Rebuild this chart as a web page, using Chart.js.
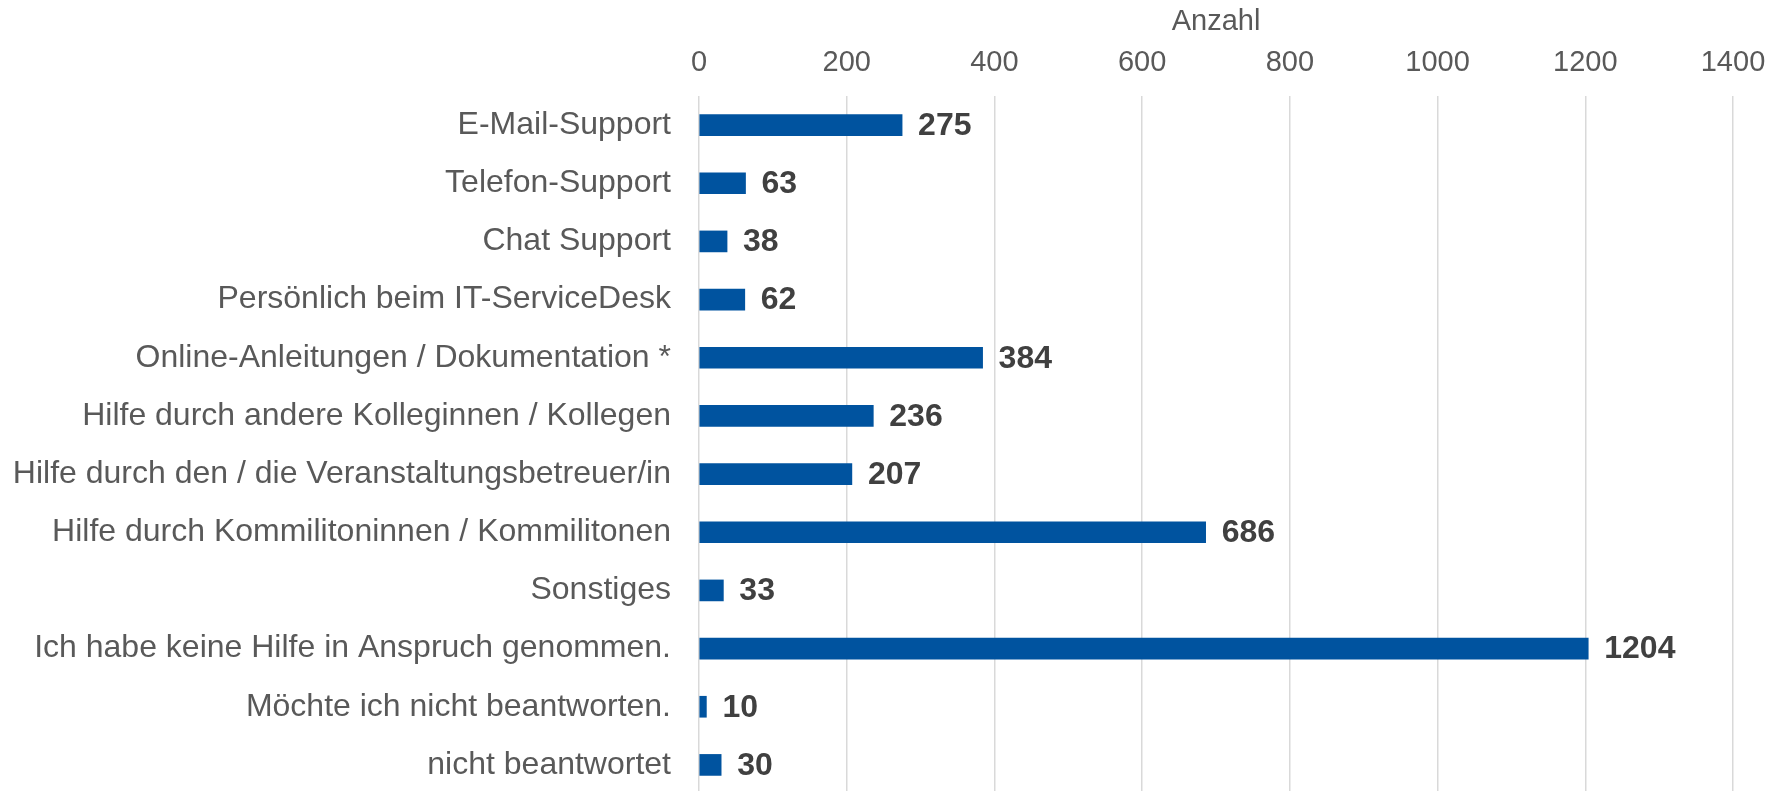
<!DOCTYPE html>
<html lang="de">
<head>
<meta charset="utf-8">
<title>Anzahl – Hilfe</title>
<script src="https://cdn.jsdelivr.net/npm/chart.js@4.4.1/dist/chart.umd.min.js"></script>
<style>
  html, body { margin:0; padding:0; background:#fff; overflow:hidden; }
  #wrap { width:1783px; height:794px; }
</style>
</head>
<body>
<div id="wrap"><canvas id="grafico" width="1783" height="794"></canvas></div>
<script>
// ---------------- Dados ---------------- //
const kategorien = [
  'E-Mail-Support',
  'Telefon-Support',
  'Chat Support',
  'Persönlich beim IT-ServiceDesk',
  'Online-Anleitungen / Dokumentation *',
  'Hilfe durch andere Kolleginnen / Kollegen',
  'Hilfe durch den / die Veranstaltungsbetreuer/in',
  'Hilfe durch Kommilitoninnen / Kommilitonen',
  'Sonstiges',
  'Ich habe keine Hilfe in Anspruch genommen.',
  'Möchte ich nicht beantworten.',
  'nicht beantwortet'
];
const anzahl = [275, 63, 38, 62, 384, 236, 207, 686, 33, 1204, 10, 30];
const achsenTitel = 'Anzahl';
const achseMax = 1400;
const achseSchritt = 200;

// ---------------- Defaults ---------------- //
const FONT = "'Liberation Sans', Arial, sans-serif";
Chart.defaults.font.family = FONT;
Chart.defaults.color = '#595959';

// rótulos de valor à direita de cada barra
const valorLabels = {
  id: 'valorLabels',
  afterDatasetsDraw(chart) {
    const ctx = chart.ctx;
    const meta = chart.getDatasetMeta(0);
    ctx.save();
    ctx.font = "bold 32px " + FONT;
    ctx.fillStyle = '#404040';
    ctx.textAlign = 'left';
    ctx.textBaseline = 'middle';
    meta.data.forEach((bar, i) => {
      ctx.fillText(String(anzahl[i]), bar.x + 16, bar.y + 1);
    });
    ctx.restore();
  }
};

new Chart(document.getElementById('grafico'), {
  type: 'bar',
  data: {
    labels: kategorien,
    datasets: [{
      data: anzahl,
      backgroundColor: '#00539f',
      barThickness: 21
    }]
  },
  options: {
    indexAxis: 'y',
    responsive: false,
    animation: false,
    layout: { padding: { left: 0, right: 50, top: 0, bottom: 0 } },
    plugins: {
      legend: { display: false },
      tooltip: { enabled: false }
    },
    scales: {
      x: {
        position: 'top',
        min: 0,
        max: achseMax,
        ticks: {
          stepSize: achseSchritt, padding: 16, font: { size: 29 }, color: '#595959',
          callback: v => String(v)
        },
        grid: { color: '#d9d9d9', lineWidth: 1.5, drawTicks: false },
        border: { display: false },
        title: { display: true, text: achsenTitel, font: { size: 29 }, color: '#595959', padding: { top: 5, bottom: 0 } },
        afterFit: s => { s.height = 96; }
      },
      y: {
        ticks: { padding: 28, font: { size: 32 }, color: '#595959' },
        grid: { display: false, drawTicks: false },
        border: { display: false },
        afterFit: s => { s.width = 699; s.paddingTop = 0; s.paddingBottom = 0; }
      }
    }
  },
  plugins: [valorLabels]
});
</script>
</body>
</html>
